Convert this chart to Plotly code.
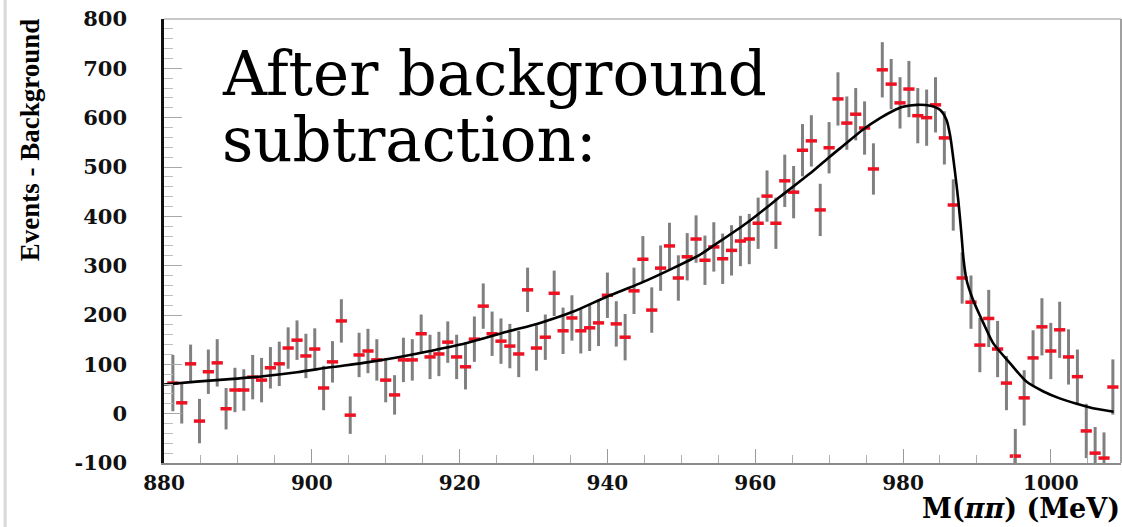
import plotly.graph_objects as go

# ---- data ----
mass = [881.2, 882.4, 883.6, 884.8, 886.0, 887.2, 888.4, 889.6, 890.8, 892.0,
        893.2, 894.4, 895.6, 896.8, 898.0, 899.2, 900.4, 901.6, 902.8, 904.0,
        905.2, 906.4, 907.6, 908.8, 910.0, 911.2, 912.4, 913.6, 914.8, 916.0,
        917.2, 918.4, 919.6, 920.8, 922.0, 923.2, 924.4, 925.6, 926.8, 928.0,
        929.2, 930.4, 931.6, 932.8, 934.0, 935.2, 936.4, 937.6, 938.8, 940.0,
        941.2, 942.4, 943.6, 944.8, 946.0, 947.2, 948.4, 949.6, 950.8, 952.0,
        953.2, 954.4, 955.6, 956.8, 958.0, 959.2, 960.4, 961.6, 962.8, 964.0,
        965.2, 966.4, 967.6, 968.8, 970.0, 971.2, 972.4, 973.6, 974.8, 976.0,
        977.2, 978.4, 979.6, 980.8, 982.0, 983.2, 984.4, 985.6, 986.8, 988.0,
        989.2, 990.4, 991.6, 992.8, 994.0, 995.2, 996.4, 997.6, 998.8, 1000.0,
        1001.2, 1002.4, 1003.6, 1004.8, 1006.0, 1007.2, 1008.4]

events = [62, 22, 101, -15, 85, 103, 10, 48, 48, 74,
          68, 93, 101, 133, 149, 117, 131, 52, 105, 188,
          -3, 119, 127, 109, 68, 38, 109, 109, 162, 115,
          121, 145, 115, 95, 151, 218, 162, 147, 137, 121,
          251, 133, 155, 244, 168, 194, 168, 174, 184, 240,
          182, 155, 249, 313, 210, 295, 340, 275, 318, 354,
          311, 338, 314, 331, 350, 354, 386, 441, 386, 472,
          449, 534, 553, 413, 539, 638, 589, 607, 579, 496,
          697, 668, 630, 658, 604, 600, 626, 559, 423, 275,
          226, 139, 193, 131, 62, -86, 32, 113, 176, 127,
          170, 115, 75, -35, -80, -90, 54]

errors = [57, 42, 39, 45, 45, 48, 42, 45, 42, 45,
          45, 42, 45, 42, 40, 45, 42, 45, 42, 44,
          38, 45, 45, 42, 45, 40, 45, 42, 39, 45,
          45, 42, 45, 46, 46, 46, 45, 46, 45, 47,
          45, 46, 46, 46, 47, 46, 46, 47, 47, 46,
          46, 47, 47, 47, 46, 46, 47, 46, 48, 48,
          50, 50, 51, 51, 51, 51, 52, 52, 52, 53,
          53, 53, 52, 53, 52, 54, 54, 53, 54, 52,
          56, 51, 52, 57, 56, 57, 56, 54, 52, 52,
          54, 55, 58, 57, 55, 55, 56, 56, 58, 57,
          57, 56, 55, 55, 53, 52, 56]

fit_mass = [880.0, 884.4, 888.9, 893.4, 898.0, 902.5, 907.0, 911.5, 916.0, 920.1,
            926.4, 930.9, 935.4, 939.9, 944.4, 948.9, 952.5, 954.3, 958.8, 963.4,
            967.9, 970.1, 972.4, 974.6, 976.9, 978.7, 980.0, 981.9, 983.7, 985.0,
            985.9, 986.4, 987.0, 987.5, 987.9, 988.2, 988.6, 989.5, 990.9, 992.2,
            994.5, 996.7, 999.0, 1001.2, 1003.5, 1005.7, 1008.5]
fit_events = [59, 65, 70, 76, 84, 94, 103, 114, 127, 140,
              166, 184, 207, 237, 264, 295, 322, 340, 386, 440,
              493, 521, 549, 576, 599, 614, 622, 626, 624, 616,
              595, 562, 494, 430, 365, 312, 271, 230, 183, 143,
              102, 65, 45, 31, 20, 11, 4]

x_ticks = [880, 900, 920, 940, 960, 980, 1000]
y_ticks = [-100, 0, 100, 200, 300, 400, 500, 600, 700, 800]

assert len(mass) == len(events) == len(errors)
assert len(fit_mass) == len(fit_events)

serif = "DejaVu Serif"

fig = go.Figure()
fig.add_trace(go.Scatter(
    x=mass, y=events, mode="markers",
    marker=dict(symbol="line-ew", size=8, color="#ee1122",
                line=dict(color="#ee1122", width=3.5)),
    error_y=dict(type="data", array=errors, visible=True,
                 color="#808080", thickness=3, width=0),
    showlegend=False, hoverinfo="x+y"))
fig.add_trace(go.Scatter(
    x=fit_mass, y=fit_events, mode="lines",
    line=dict(color="black", width=2.6, shape="spline", smoothing=0.7),
    showlegend=False))

fig.update_layout(
    width=1122, height=527,
    margin=dict(l=164, r=1, t=19, b=64),
    paper_bgcolor="white", plot_bgcolor="white",
    font=dict(family=serif, color="black"),
)

fig.update_xaxes(
    range=[880, 1009.5], tickvals=x_ticks, ticktext=[str(v) for v in x_ticks],
    showgrid=False, zeroline=False,
    showline=True, linecolor="#8a8a8a", linewidth=2, mirror=False,
    ticks="inside", ticklen=14, tickwidth=1.2, tickcolor="#9a9a9a",
    minor=dict(dtick=5, ticks="inside", ticklen=8, tickcolor="#b0b0b0", tickwidth=1),
    tickfont=dict(family=serif, size=20, weight="bold", color="#111111"),
    ticklabelstandoff=1,
)
fig.update_yaxes(
    range=[-100, 800], tickvals=y_ticks, ticktext=[str(v) for v in y_ticks],
    showgrid=False, zeroline=False,
    showline=True, linecolor="#111111", linewidth=2.5, mirror=False,
    ticks="inside", ticklen=18, tickwidth=1.2, tickcolor="#a8a8a8",
    minor=dict(dtick=20, ticks="inside", ticklen=9, tickcolor="#c0c0c0", tickwidth=1),
    tickfont=dict(family=serif, size=21, weight="bold", color="#111111"),
    ticklabelstandoff=30,
)

# frame lines (top and right, light gray)
fig.add_shape(type="line", xref="paper", yref="paper", x0=0, x1=1, y0=1, y1=1,
              line=dict(color="#c8c8c8", width=2))
fig.add_shape(type="line", xref="paper", yref="paper", x0=1, x1=1, y0=0, y1=1,
              line=dict(color="#a0a0a0", width=2))
# light gray stripe at far left of the picture
fig.add_shape(type="line", xref="paper", yref="paper", x0=-0.166, x1=-0.166,
              y0=-0.15, y1=1.05, line=dict(color="#d8d8d8", width=3))

# titles
fig.add_annotation(text="Events - Background", xref="paper", yref="paper",
                   x=-0.14, y=0.727, textangle=-90, showarrow=False,
                   xanchor="center", yanchor="middle",
                   font=dict(family="Liberation Serif", size=27, weight="bold", color="black"))
fig.add_annotation(text="M(<i>\u03c0\u03c0</i>) (MeV)", xref="paper", yref="paper",
                   x=1.0, y=-0.1036, showarrow=False,
                   xanchor="right", yanchor="middle", borderpad=0,
                   font=dict(family=serif, size=27, weight="bold", color="black"))

# big in-plot text
fig.add_annotation(text="After background", xref="paper", yref="paper",
                   x=0.0585, y=0.878, showarrow=False,
                   xanchor="left", yanchor="middle",
                   font=dict(family=serif, size=61, color="black"))
fig.add_annotation(text="subtraction:", xref="paper", yref="paper",
                   x=0.0585, y=0.728, showarrow=False,
                   xanchor="left", yanchor="middle",
                   font=dict(family=serif, size=61, color="black"))

fig.write_html("out.html")
